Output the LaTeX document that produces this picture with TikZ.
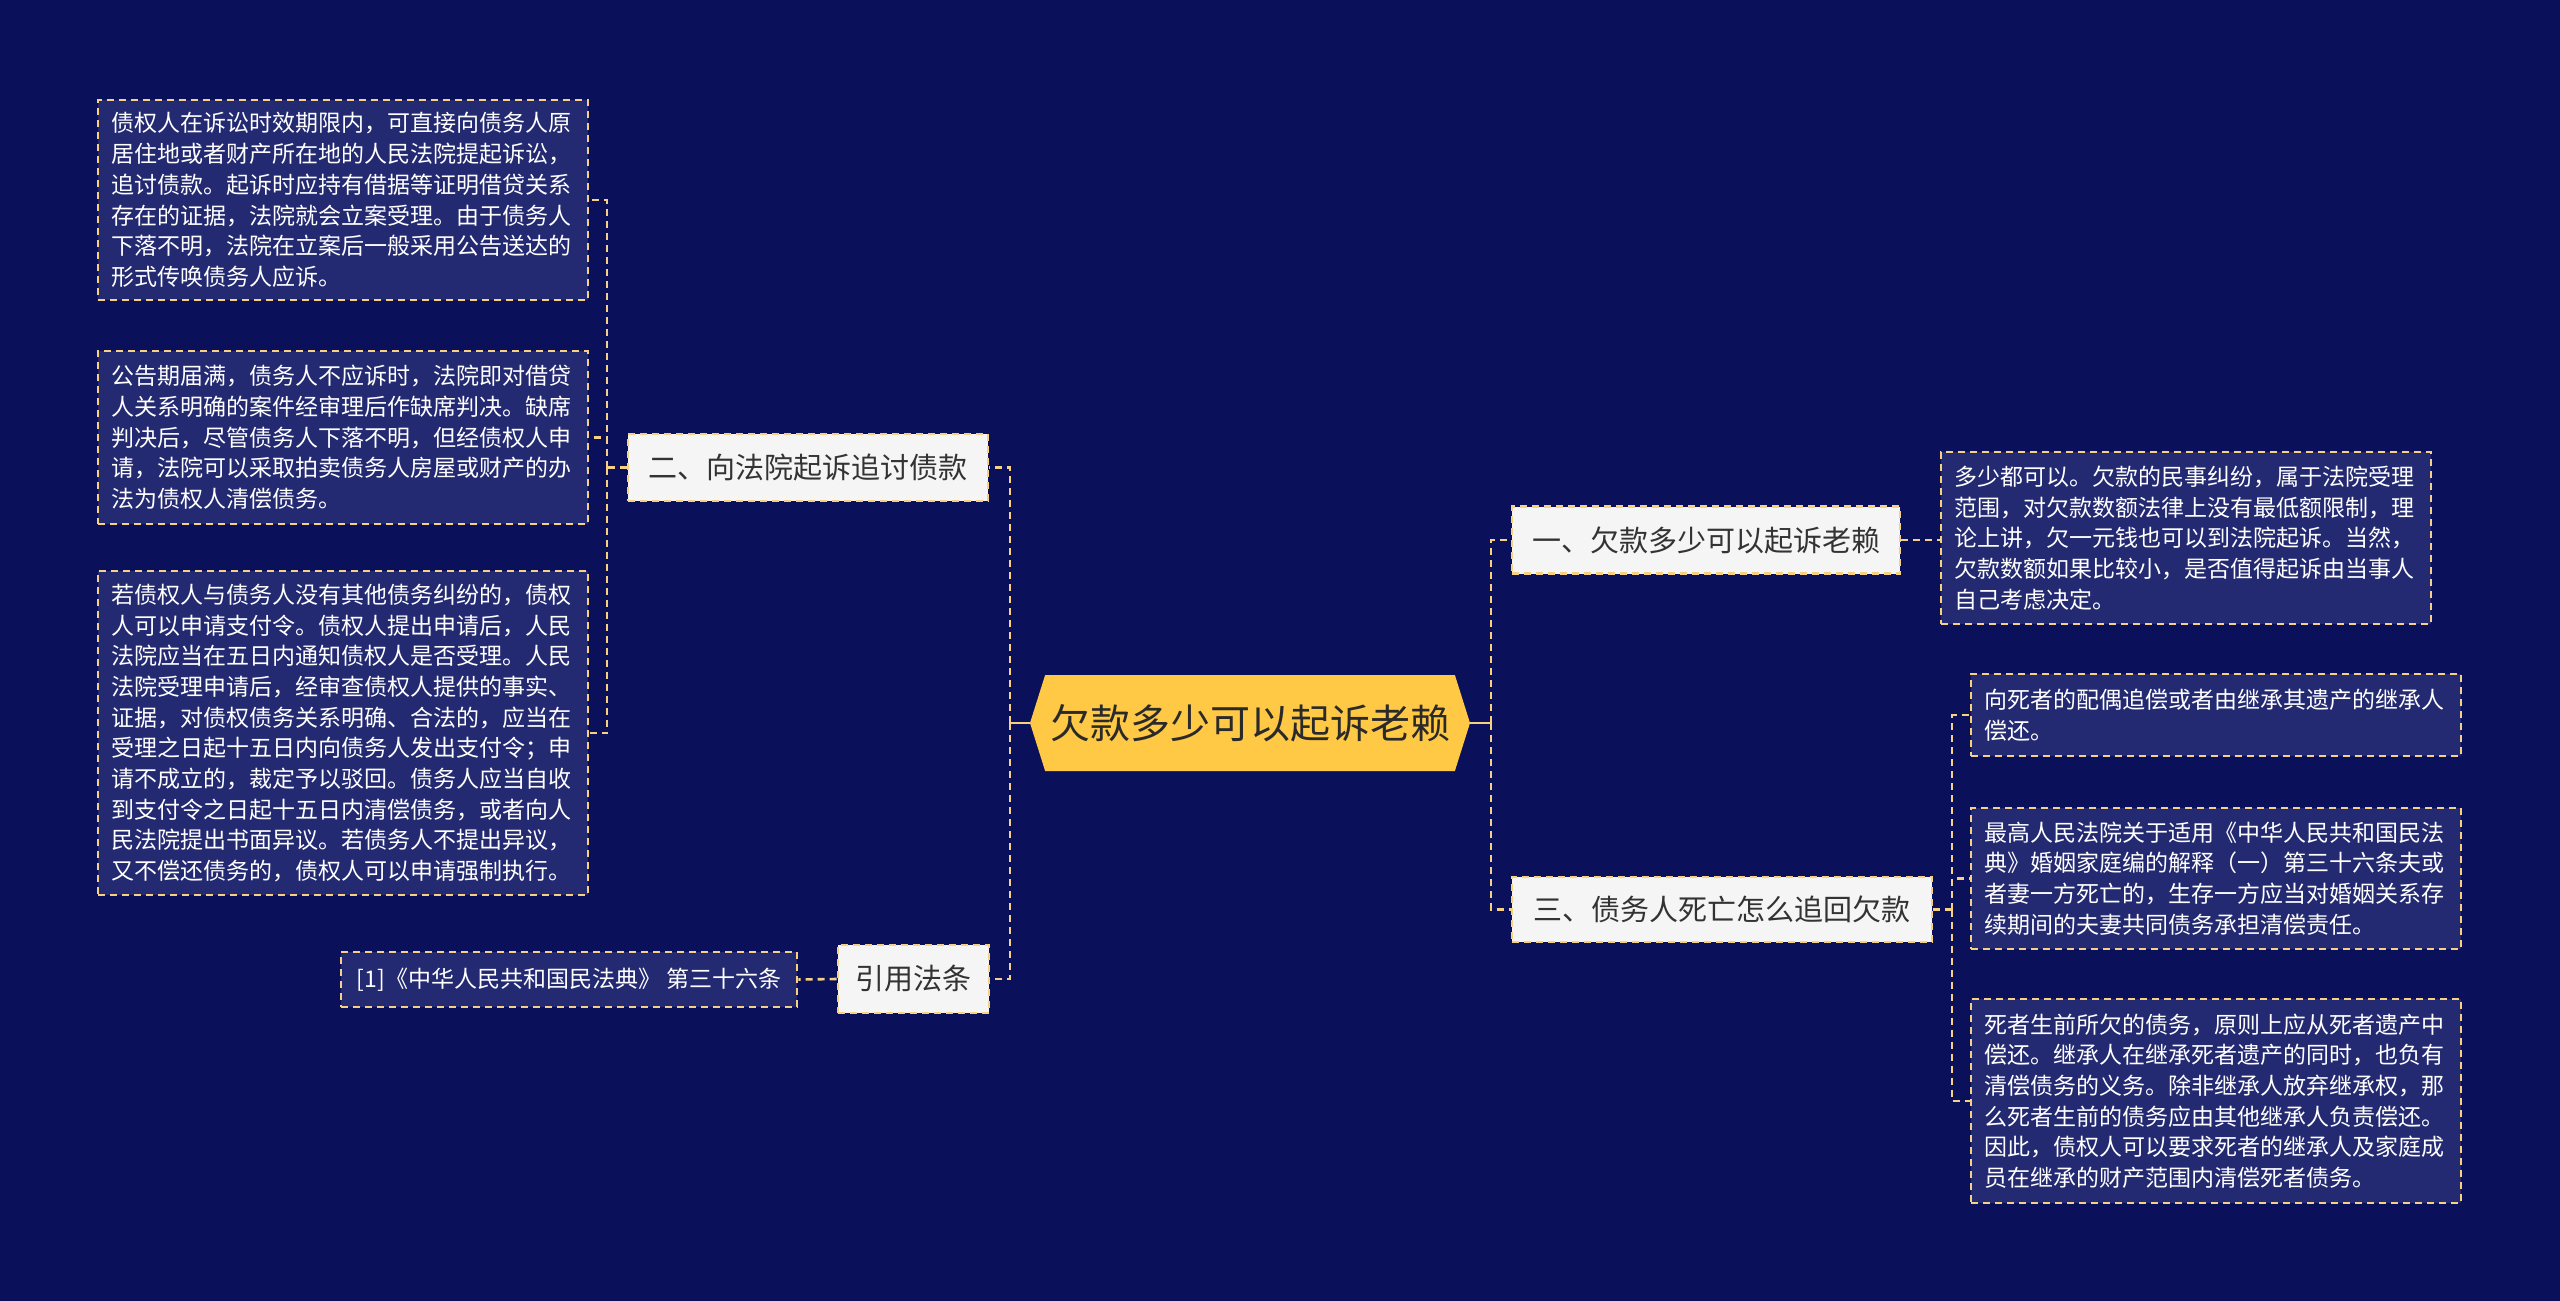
\documentclass[tikz,border=0pt]{standalone}
\usepackage{fontspec}
\setmainfont{Noto Sans CJK SC}
\usetikzlibrary{shapes.symbols}
\definecolor{bgc}{HTML}{0B105A}
\definecolor{leaffill}{HTML}{242A72}
\definecolor{linec}{HTML}{F6D083}
\definecolor{midfill}{HTML}{F5F5F5}
\definecolor{midtext}{HTML}{333333}
\definecolor{ctrfill}{HTML}{FFC845}
\definecolor{ctrtext}{HTML}{2A2A2A}
\tikzset{
  dsh/.style={dash pattern=on 7pt off 5pt, line width=2.6pt},
  conn/.style={draw=linec, dsh},
  solidconn/.style={draw=linec, line width=2.6pt},
  leaf/.style={draw=linec, dsh, fill=leaffill, text=white, align=left,
    text width=464pt, inner xsep=13pt, inner ysep=6pt,
    font=\fontsize{23}{30.7}\selectfont},
  midbox/.style={draw=linec, dsh, fill=midfill, text=midtext,
    inner sep=0pt, font=\fontsize{29}{34}\selectfont},
  ctrbox/.style={signal, signal to=west and east, signal pointer angle=145,
    fill=ctrfill, text=ctrtext, inner sep=0pt, font=\fontsize{40}{46}\selectfont}
}
\begin{document}
\begin{tikzpicture}[x=1pt,y=-1pt]
\useasboundingbox (0,0) rectangle (2560,1301);
\fill[bgc] (0,0) rectangle (2560,1301);

% center
\node[ctrbox, minimum width=440pt, minimum height=96pt] (c) at (1250,723) {欠款多少可以起诉老赖};

% level 1
\node[midbox, minimum width=360pt, minimum height=67pt] (n2) at (808,467.5) {二、向法院起诉追讨债款};
\node[midbox, minimum width=151pt, minimum height=68pt] (n4) at (913.5,979) {引用法条};
\node[midbox, minimum width=388pt, minimum height=67pt] (n1) at (1706,540) {一、欠款多少可以起诉老赖};
\node[midbox, minimum width=420pt, minimum height=65pt] (n3) at (1722,909.5) {三、债务人死亡怎么追回欠款};

% leaves left
\node[leaf, minimum height=200pt] (L1) at (343,200) {债权人在诉讼时效期限内，可直接向债务人原\\居住地或者财产所在地的人民法院提起诉讼，\\追讨债款。起诉时应持有借据等证明借贷关系\\存在的证据，法院就会立案受理。由于债务人\\下落不明，法院在立案后一般采用公告送达的\\形式传唤债务人应诉。};
\node[leaf, minimum height=173pt] (L2) at (343,437.5) {公告期届满，债务人不应诉时，法院即对借贷\\人关系明确的案件经审理后作缺席判决。缺席\\判决后，尽管债务人下落不明，但经债权人申\\请，法院可以采取拍卖债务人房屋或财产的办\\法为债权人清偿债务。};
\node[leaf, minimum height=324pt] (L3) at (343,733) {若债权人与债务人没有其他债务纠纷的，债权\\人可以申请支付令。债权人提出申请后，人民\\法院应当在五日内通知债权人是否受理。人民\\法院受理申请后，经审查债权人提供的事实、\\证据，对债权债务关系明确、合法的，应当在\\受理之日起十五日内向债务人发出支付令；申\\请不成立的，裁定予以驳回。债务人应当自收\\到支付令之日起十五日内清偿债务，或者向人\\民法院提出书面异议。若债务人不提出异议，\\又不偿还债务的，债权人可以申请强制执行。};
\node[draw=linec, dsh, fill=leaffill, text=white, inner xsep=13pt, inner ysep=6pt,
  font=\fontsize{23}{30.7}\selectfont, minimum width=456pt, minimum height=55pt] (ref) at (569,979.5) {[1]《中华人民共和国民法典》 第三十六条};

% leaves right
\node[leaf, minimum height=172pt] (R) at (2186,538) {多少都可以。欠款的民事纠纷，属于法院受理\\范围，对欠款数额法律上没有最低额限制，理\\论上讲，欠一元钱也可以到法院起诉。当然，\\欠款数额如果比较小，是否值得起诉由当事人\\自己考虑决定。};
\node[leaf, minimum height=82pt] (c1) at (2216,715) {向死者的配偶追偿或者由继承其遗产的继承人\\偿还。};
\node[leaf, minimum height=141pt] (c2) at (2216,878.5) {最高人民法院关于适用《中华人民共和国民法\\典》婚姻家庭编的解释（一）第三十六条夫或\\者妻一方死亡的，生存一方应当对婚姻关系存\\续期间的夫妻共同债务承担清偿责任。};
\node[leaf, minimum height=204pt] (c3) at (2216,1101) {死者生前所欠的债务，原则上应从死者遗产中\\偿还。继承人在继承死者遗产的同时，也负有\\清偿债务的义务。除非继承人放弃继承权，那\\么死者生前的债务应由其他继承人负责偿还。\\因此，债权人可以要求死者的继承人及家庭成\\员在继承的财产范围内清偿死者债务。};

% junction coordinates
\coordinate (lj) at (1010,723);
\coordinate (rj) at (1491,723);
\coordinate (lj2) at (607,467.5);
\coordinate (rj3) at (1952,909.5);

% connectors
\draw[solidconn] (c.west) -- (lj);
\draw[conn] (lj) |- (n2.east);
\draw[conn] (lj) |- (n4.east);
\draw[solidconn] (c.east) -- (rj);
\draw[conn] (rj) |- (n1.west);
\draw[conn] (rj) |- (n3.west);
\draw[conn] (n1.east) -- (n1.east -| R.west);
\draw[conn] (n2.west) -- (lj2);
\draw[conn] (lj2) |- (L1.east);
\draw[conn] (lj2) |- (L2.east);
\draw[conn] (lj2) |- (L3.east);
\draw[conn] (n4.west) -- (ref.east);
\draw[conn] (n3.east) -- (rj3);
\draw[conn] (rj3) |- (c1.west);
\draw[conn] (rj3) |- (c2.west);
\draw[conn] (rj3) |- (c3.west);
\end{tikzpicture}
\end{document}
